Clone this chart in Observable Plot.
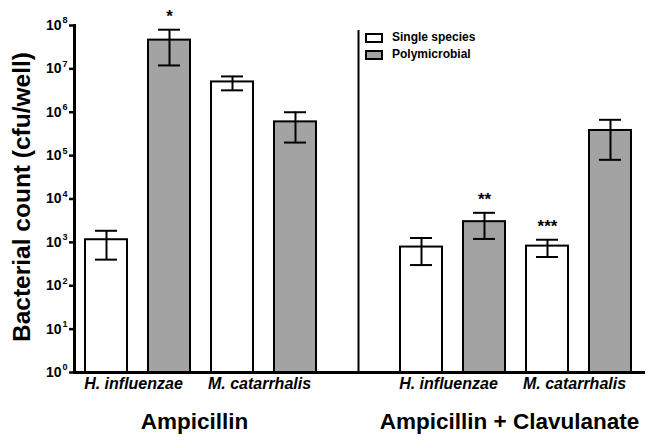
<!DOCTYPE html>
<html>
<head>
<meta charset="utf-8">
<script src="https://cdn.jsdelivr.net/npm/d3@7"></script>
<script src="https://cdn.jsdelivr.net/npm/@observablehq/plot@0.6"></script>
<style>
  body { margin: 0; background: #fff; }
  #wrap { position: relative; width: 649px; height: 441px; font-family: "Liberation Sans", Arial, sans-serif; }
  #legend { position: absolute; left: 365px; top: 29px; font-weight: bold; font-size: 12px; line-height: 17px; color: #000; }
  #legend .row { display: flex; align-items: center; }
  #legend .sw { width: 14px; height: 6px; border: 2px solid #000; margin-right: 9px; }
</style>
</head>
<body>
<div id="wrap"><div id="legend"></div></div>
<script>
const treatments = ["Ampicillin", "Ampicillin + Clavulanate"];
const species = ["H. influenzae", "M. catarrhalis"];
const conditions = ["Single species", "Polymicrobial"];
const colors = ["#ffffff", "#a3a3a3"];

// values [treatment][species]
const singleValue = [[1150, 5.0e6], [780, 820]];
const singleLow   = [[400, 3.2e6], [300, 460]];
const singleHigh  = [[1850, 6.7e6], [1260, 1150]];
const polyValue   = [[4.6e7, 6.0e5], [3.0e3, 3.8e5]];
const polyLow     = [[1.2e7, 2.0e5], [1.2e3, 8.0e4]];
const polyHigh    = [[8.0e7, 1.0e6], [4.8e3, 6.7e5]];
const polySignificance = [["*", ""], ["**", ""]];
const singleSignificance = [["", ""], ["", "***"]];
const exponents = [0, 1, 2, 3, 4, 5, 6, 7, 8];

const rows = [];
treatments.forEach((t, ti) => species.forEach((s, si) => {
  rows.push({slot: ti * 5 + si * 2, treatment: t, species: s, condition: conditions[0],
    value: singleValue[ti][si], lo: singleLow[ti][si], hi: singleHigh[ti][si], sig: singleSignificance[ti][si]});
  rows.push({slot: ti * 5 + si * 2 + 1, treatment: t, species: s, condition: conditions[1],
    value: polyValue[ti][si], lo: polyLow[ti][si], hi: polyHigh[ti][si], sig: polySignificance[ti][si]});
}));
const speciesLabels = rows.filter(d => d.condition === conditions[0]);
const treatmentLabels = treatments.map((t, ti) => ({slot: ti * 5 + 1, text: t}));

const chart = Plot.plot({
  width: 649,
  height: 441,
  marginLeft: 74,
  marginRight: 6,
  marginTop: 25,
  marginBottom: 69,
  style: {fontFamily: '"Liberation Sans", Arial, sans-serif', color: "#000", background: "#fff", overflow: "visible"},
  x: {type: "band", domain: d3.range(9), paddingInner: 0.333, paddingOuter: 0.167, axis: null},
  y: {type: "log", domain: [1, 1e8], axis: null},
  color: {domain: conditions, range: colors},
  marks: [
    Plot.barY(rows, {x: "slot", y1: 1, y2: "value", fill: "condition", stroke: "#000", strokeWidth: 2}),
    Plot.ruleX(rows, {x: "slot", y1: "lo", y2: "hi", stroke: "#000", strokeWidth: 2}),
    Plot.tickY(rows, {x: "slot", y: "lo", inset: 10, stroke: "#000", strokeWidth: 2}),
    Plot.tickY(rows, {x: "slot", y: "hi", inset: 10, stroke: "#000", strokeWidth: 2}),
    Plot.text(rows.filter(d => d.sig), {x: "slot", y: "hi", text: "sig", dy: -8, lineAnchor: "bottom", fontSize: 17, fontWeight: "bold"}),
    Plot.ruleX([4], {insetTop: 5, stroke: "#000", strokeWidth: 2}),
    Plot.axisY({anchor: "left", ticks: exponents.map(e => 10 ** e), tickSize: 5, tickFormat: () => "", strokeWidth: 2.5}),
    Plot.text(exponents, {y: d => 10 ** d, text: () => "10", frameAnchor: "left", dx: -13, textAnchor: "end", fontSize: 14, fontWeight: "bold"}),
    Plot.text(exponents, {y: d => 10 ** d, text: d => String(d), frameAnchor: "left", dx: -12, dy: -5, textAnchor: "start", fontSize: 9, fontWeight: "bold"}),
    Plot.frame({anchor: "left", stroke: "#000", strokeWidth: 3}),
    Plot.frame({anchor: "bottom", stroke: "#000", strokeWidth: 3}),
    Plot.text(speciesLabels, {x: "slot", text: "species", frameAnchor: "bottom", dx: 27, dy: 16, fontSize: 16, fontWeight: "bold", fontStyle: "italic"}),
    Plot.text(treatmentLabels, {x: "slot", text: "text", frameAnchor: "bottom", dx: 25, dy: 56, fontSize: 22.5, fontWeight: "bold"}),
    Plot.text(["Bacterial count (cfu/well)"], {frameAnchor: "left", dx: -52, dy: -2, rotate: -90, textAnchor: "middle", fontSize: 24.5, fontWeight: "bold"})
  ]
});
const wrap = document.getElementById("wrap");
wrap.insertBefore(chart, wrap.firstChild);

const legend = document.getElementById("legend");
conditions.forEach((c, i) => {
  const r = document.createElement("div");
  r.className = "row";
  r.innerHTML = `<span class="sw" style="background:${colors[i]}"></span><span>${c}</span>`;
  legend.appendChild(r);
});
</script>
</body>
</html>
